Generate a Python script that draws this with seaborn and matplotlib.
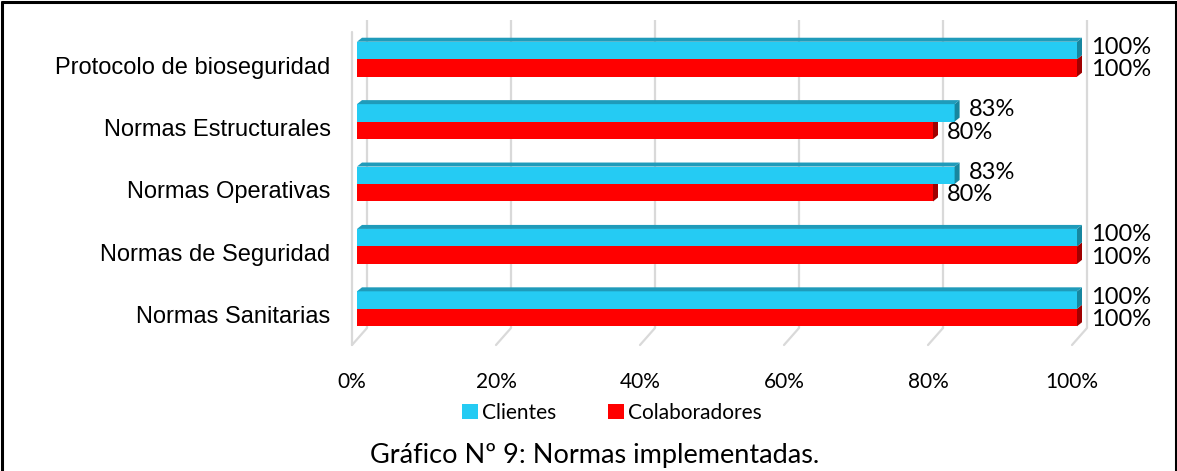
import numpy as np
import pandas as pd
import seaborn as sns
import matplotlib.pyplot as plt
import matplotlib.transforms as mtransforms
from matplotlib.patches import Polygon, Patch
from matplotlib.lines import Line2D

categories = ["Protocolo de bioseguridad", "Normas Estructurales", "Normas Operativas",
              "Normas de Seguridad", "Normas Sanitarias"]
clientes = [1.00, 0.83, 0.83, 1.00, 1.00]
colaboradores = [1.00, 0.80, 0.80, 1.00, 1.00]
series = ["Clientes", "Colaboradores"]
xticks = [0, 0.2, 0.4, 0.6, 0.8, 1.0]
xticklabels = ["0%", "20%", "40%", "60%", "80%", "100%"]
caption = "Gráfico Nº 9: Normas implementadas."

colors = ["#25CBF3", "#FF0000"]
top_colors = ["#1F9BBA", "#B00000"]
side_colors = ["#17869F", "#A00000"]

W, H = 1177, 471
sns.set_style("white")
plt.rcParams["text.color"] = "black"
plt.rcParams["xtick.color"] = "black"
plt.rcParams["ytick.color"] = "black"
fig = plt.figure(figsize=(W / 100, H / 100), dpi=100)
ax_left, ax_right, ax_top, ax_bot = 357, 1077, 28, 340
ax = fig.add_axes([ax_left / W, 1 - ax_bot / H, (ax_right - ax_left) / W, (ax_bot - ax_top) / H])

df = pd.DataFrame({
    "cat": categories * 2,
    "val": clientes + colaboradores,
    "serie": [series[0]] * len(categories) + [series[1]] * len(categories),
})
sns.barplot(data=df, y="cat", x="val", hue="serie", hue_order=series, palette=colors,
            width=0.56, ax=ax, orient="h", saturation=1, legend=False, edgecolor="none",
            linewidth=0, zorder=3)
ax.set_xlim(0, 1)
ax.set_ylim(len(categories) - 0.5, -0.5)
for s in ax.spines.values():
    s.set_visible(False)

sx = (ax_right - ax_left) / 1.0          # px per x unit
sy = (ax_bot - ax_top) / len(categories)  # px per y unit

def yd(p):
    return -0.5 + (p - ax_top) / sy

def xd(px):
    return px / sx

# 3D faces for bars
dx, dy = xd(5), 4 / sy
bars = [p for p in ax.patches]
n = len(categories)
for k, p in enumerate(bars):
    si = 0 if k < n else 1
    x0, w = p.get_x(), p.get_width()
    y0, h = p.get_y(), p.get_height()
    x1 = x0 + w
    ytop, ybot = min(y0, y0 + h), max(y0, y0 + h)
    side = Polygon([(x1, ytop), (x1 + dx, ytop - dy), (x1 + dx, ybot - dy), (x1, ybot)],
                   closed=True, facecolor=side_colors[si], edgecolor="none",
                   zorder=4 if si == 0 else 2, clip_on=False)
    ax.add_patch(side)
    if si == 0:
        top = Polygon([(x0, ytop), (x0 + dx, ytop - dy), (x1 + dx, ytop - dy), (x1, ytop)],
                      closed=True, facecolor=top_colors[si], edgecolor="none",
                      zorder=4, clip_on=False)
        ax.add_patch(top)

# back wall gridlines and floor
gc = "#D9D9D9"
for t in xticks:
    ax.plot([t + xd(10), t + xd(10)], [yd(20), yd(328)], color=gc, lw=1.6,
            zorder=1, clip_on=False, solid_capstyle="butt")
    ax.plot([t + xd(10), t - xd(5)], [yd(328), yd(345)], color=gc, lw=1.6,
            zorder=1, clip_on=False)
ax.plot([-xd(5), -xd(5)], [yd(32), yd(345)], color=gc, lw=1.6, zorder=1, clip_on=False)
ax.grid(False)

# ticks
ax.set_xticks(xticks)
ax.set_xticklabels(xticklabels, fontsize=15, family="Lato", color="black")
ax.tick_params(axis="x", length=0, pad=23)
for lab in ax.get_xticklabels():
    lab.set_transform(lab.get_transform() + mtransforms.ScaledTranslation(-5 / 100, 0, fig.dpi_scale_trans))
ax.set_yticks(range(len(categories)))
ax.set_yticklabels(categories, fontsize=17, family="Liberation Sans", color="black")
ax.tick_params(axis="y", length=0, pad=19)
for lab in ax.get_yticklabels():
    lab.set_transform(lab.get_transform() + mtransforms.ScaledTranslation(0, -6 / 100, fig.dpi_scale_trans))
ax.set_xlabel("")
ax.set_ylabel("")

# data labels
for k, p in enumerate(bars):
    si = 0 if k < n else 1
    vals = clientes if si == 0 else colaboradores
    x1 = p.get_x() + p.get_width()
    yc = p.get_y() + p.get_height() / 2
    v = vals[k % n]
    ax.annotate(f"{round(v * 100)}%", (x1, yc), xytext=(14, 3 if si == 0 else -2),
                textcoords="offset pixels", ha="left", va="center",
                fontsize=17, family="Lato", color="black", annotation_clip=False)

# legend
handles = [Patch(facecolor=c, edgecolor="none") for c in colors]
fig.legend(handles, series, loc="center", bbox_to_anchor=(612 / W, 1 - 413 / H),
           ncol=2, frameon=False, prop={"family": "Lato", "size": 15},
           handlelength=0.75, handleheight=0.75, handletextpad=0.2, columnspacing=2.5,
           labelcolor="black")

# caption
fig.text(595 / W, 1 - 455 / H, caption, ha="center", va="center", fontsize=19.5,
         family="Lato", color="black")

# border
for (xa, ya) in [([1.5, 1.5], [0, H - 1.5]), ([1.5, W - 1.5], [H - 1.5, H - 1.5]),
                 ([W - 1.5, W - 1.5], [0, H - 1.5])]:
    fig.add_artist(Line2D(np.array(xa) / W, np.array(ya) / H, color="black", lw=2.2))

fig.savefig("out.png", dpi=100, facecolor="white")
